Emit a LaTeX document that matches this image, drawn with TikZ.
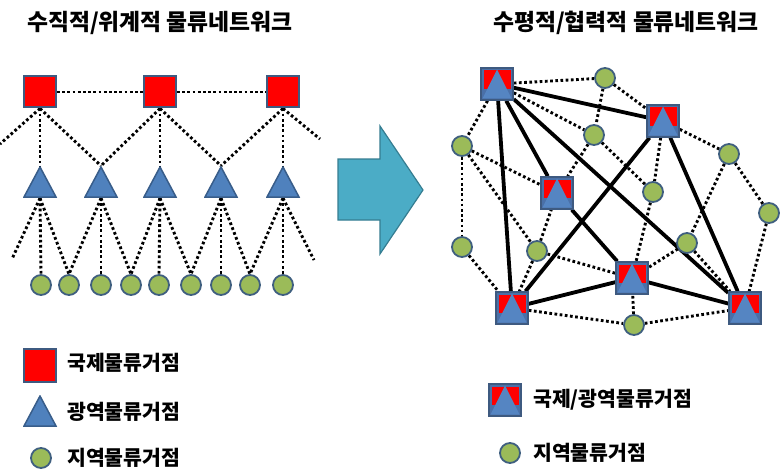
\documentclass[tikz,border=0pt]{standalone}
\usepackage{fontspec}
\newfontfamily\kr{Noto Sans CJK KR}
\usetikzlibrary{backgrounds}
\definecolor{sqred}{HTML}{FF0000}
\definecolor{sqborder}{HTML}{3E5A80}
\definecolor{triblue}{HTML}{4F81BD}
\definecolor{triborder}{HTML}{385D8A}
\definecolor{dotgreen}{HTML}{9BBB59}
\definecolor{dotborder}{HTML}{3F5F7F}
\definecolor{arrowfill}{HTML}{4BACC6}
\definecolor{arrowborder}{HTML}{357D91}
\definecolor{hubbg}{HTML}{4A70A8}
\definecolor{hubtri}{HTML}{5585C2}
\tikzset{
  intl/.style={rectangle, fill=sqred, draw=sqborder, line width=2pt,
    minimum width=32pt, minimum height=31pt, inner sep=0pt},
  regional/.style={rectangle, inner sep=0pt, minimum width=34pt, minimum height=32pt,
    path picture={\filldraw[fill=triblue, draw=triborder, line width=1.5pt]
      ([yshift=-1pt]path picture bounding box.north)
      -- ([xshift=1pt,yshift=1pt]path picture bounding box.south west)
      -- ([xshift=-1pt,yshift=1pt]path picture bounding box.south east) -- cycle;}},
  local/.style={circle, fill=dotgreen, draw=dotborder, line width=1.8pt,
    minimum size=20pt, inner sep=0pt},
  hub/.style={rectangle, fill=hubbg, draw=sqborder, line width=1.5pt,
    minimum width=32pt, minimum height=32pt, inner sep=0pt,
    path picture={
      \fill[sqred] ([xshift=2.5pt,yshift=-2.5pt]path picture bounding box.north west)
        rectangle ([xshift=-2.5pt,yshift=-5pt]path picture bounding box.east);
      \fill[hubtri] ([yshift=-1.5pt]path picture bounding box.north)
        -- ([xshift=1.5pt,yshift=1.5pt]path picture bounding box.south west)
        -- ([xshift=-1.5pt,yshift=1.5pt]path picture bounding box.south east) -- cycle;}},
  dotline/.style={line width=2.9pt, dash pattern=on 2.7pt off 2.5pt},
  solidline/.style={line width=3.8pt},
  title/.style={font=\kr\bfseries\fontsize{22.8}{22.8}\selectfont, inner sep=0pt},
  legend/.style={font=\kr\bfseries\fontsize{20.5}{20.5}\selectfont, inner sep=0pt, anchor=west},
}
\begin{document}
\begin{tikzpicture}[x=1pt, y=-1pt]
\useasboundingbox (0,0) rectangle (781,476);

% titles
\node[title] (title1) at (160,23) {수직적/위계적 물류네트워크};
\node[title] (title2) at (626,23) {수평적/협력적 물류네트워크};

% ---------- left network ----------
\node[intl] (s1) at (40,92) {};
\node[intl] (s2) at (160,92) {};
\node[intl] (s3) at (283,92) {};
\node[regional] (t1) at (40,182) {};
\node[regional] (t2) at (101,182) {};
\node[regional] (t3) at (160,182) {};
\node[regional] (t4) at (221,182) {};
\node[regional] (t5) at (283,182) {};
\foreach \i/\x in {1/41,2/69,3/101,4/131,5/159,6/191,7/221,8/250,9/283}
  \node[local] (c\i) at (\x,285) {};
\coordinate (offsl) at (0,144);
\coordinate (offsr) at (320,139);
\coordinate (offtl) at (12,259);
\coordinate (offtr) at (314,260);

\begin{pgfonlayer}{background}
\draw[dotline] (s1) -- (s2) (s2) -- (s3);
\draw[dotline] (s1.south) -- (offsl);
\draw[dotline] (s1.south) -- (t1.north);
\draw[dotline] (s1.south) -- (t2.north);
\draw[dotline] (s2.south) -- (t2.north);
\draw[dotline] (s2.south) -- (t3.north);
\draw[dotline] (s2.south) -- (t4.north);
\draw[dotline] (s3.south) -- (t4.north);
\draw[dotline] (s3.south) -- (t5.north);
\draw[dotline] (s3.south) -- (offsr);
\draw[dotline] (t1.south) -- (offtl);
\draw[dotline] (t1.south) -- (c1.north);
\draw[dotline] (t1.south) -- (c2.north);
\draw[dotline] (t2.south) -- (c2.north);
\draw[dotline] (t2.south) -- (c3.north);
\draw[dotline] (t2.south) -- (c4.north);
\draw[dotline] (t3.south) -- (c4.north);
\draw[dotline] (t3.south) -- (c5.north);
\draw[dotline] (t3.south) -- (c6.north);
\draw[dotline] (t4.south) -- (c6.north);
\draw[dotline] (t4.south) -- (c7.north);
\draw[dotline] (t4.south) -- (c8.north);
\draw[dotline] (t5.south) -- (c8.north);
\draw[dotline] (t5.south) -- (c9.north);
\draw[dotline] (t5.south) -- (offtr);
\end{pgfonlayer}

% ---------- arrow ----------
\filldraw[fill=arrowfill, draw=arrowborder, line width=1.2pt]
  (338,159) -- (380,159) -- (380,126) -- (423,190) -- (380,254) -- (380,220) -- (338,220) -- cycle;

% ---------- right network ----------
\node[hub] (h1) at (497,84) {};
\node[hub] (h2) at (663,121) {};
\node[hub] (h3) at (557,193) {};
\node[hub] (h4) at (632,278) {};
\node[hub] (h5) at (512,308) {};
\node[hub] (h6) at (745,308) {};
\node[local] (d1) at (605,78) {};
\node[local] (d2) at (594,135) {};
\node[local] (d3) at (462,146) {};
\node[local] (d4) at (729,154) {};
\node[local] (d5) at (653,192) {};
\node[local] (d6) at (769,213) {};
\node[local] (d7) at (462,247) {};
\node[local] (d8) at (537,251) {};
\node[local] (d9) at (687,243) {};
\node[local] (d10) at (634,325) {};

\begin{pgfonlayer}{background}
\foreach \a/\b in {h1/d1,d1/h2,h1/d2,d1/d2,h1/d3,d3/h3,d2/h3,d2/d5,h2/d4,h2/d5,
  d4/d9,d4/d6,d3/d7,d3/d8,d7/h5,d8/h3,d8/h5,d8/h4,d5/h4,d9/h4,d9/h6,d6/h6,
  h5/d10,d10/h6,d10/h4}
  \draw[dotline] (\a) -- (\b);
\foreach \a/\b in {h1/h2,h1/h3,h1/h5,h1/h6,h3/h4,h2/h5,h2/h6,h5/h4,h4/h6}
  \draw[solidline] (\a) -- (\b);
\end{pgfonlayer}

% ---------- legends ----------
\node[intl, minimum height=33pt] (li) at (40,365) {};
\node[legend] (lit) at (67,363) {국제물류거점};
\node[regional] (lr) at (40,411) {};
\node[legend] (lrt) at (67,412) {광역물류거점};
\node[local] (ll) at (41,458) {};
\node[legend] (llt) at (67,458) {지역물류거점};

\node[hub] (lh) at (505,400) {};
\node[legend] (lht) at (533,400) {국제/광역물류거점};
\node[local] (ld) at (510,453) {};
\node[legend] (ldt) at (533,453) {지역물류거점};
\end{tikzpicture}
\end{document}
